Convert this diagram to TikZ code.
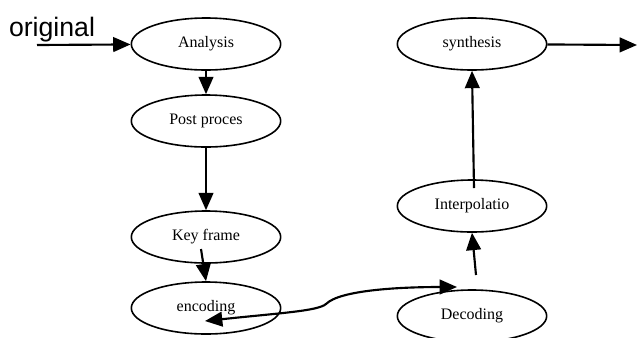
\documentclass[tikz,border=0pt]{standalone}
\usepackage{fontspec}
\setmainfont{Liberation Serif}
\setsansfont{Liberation Sans}
\usetikzlibrary{shapes.geometric,arrows.meta}

\begin{document}
\begin{tikzpicture}[x=0.75pt,y=-0.75pt,
  proc/.style={draw,ellipse,line width=1.2pt,minimum width=112pt,minimum height=39pt,inner sep=0pt,font=\fontsize{12}{14}\selectfont},
  flow/.style={line width=1.6pt,-{Triangle[length=13pt,width=11pt]}}]
\useasboundingbox (0,0) rectangle (638,337);
\node[font=\sffamily\fontsize{20}{22}\selectfont](orig) at (52,30){original};
\node[proc](ana) at (206,44){Analysis};
\node[proc](post) at (206,121){Post proces};
\node[proc](key) at (206,237){Key frame};
\node[proc](enc) at (206,308){encoding};
\node[proc](dec) at (472,316){Decoding};
\node[proc](interp) at (472,206){Interpolatio};
\node[proc](syn) at (472,44){synthesis};
\coordinate (in) at (37,45);
\coordinate (out) at (637,45);
\coordinate (k1) at (201,249);
\coordinate (i1) at (474,188);
\coordinate (d1) at (476,275);
\coordinate (e1) at (205,321);
\coordinate (d2) at (457,287);
\draw[flow] (in) -- (ana);
\draw[flow] (ana) -- (post);
\draw[flow] (post) -- (key);
\draw[flow] (k1) -- (enc.north);
\draw[flow] (d1) -- (interp.south);
\draw[flow] (i1) -- (syn.south);
\draw[flow] (syn) -- (out);
\draw[flow,{Triangle[length=13pt,width=11pt]}-{Triangle[length=13pt,width=11pt]}] (e1) .. controls (280,313) and (318,311) .. (326,304) .. controls (340,290) and (400,287) .. (d2);
\end{tikzpicture}
\end{document}
